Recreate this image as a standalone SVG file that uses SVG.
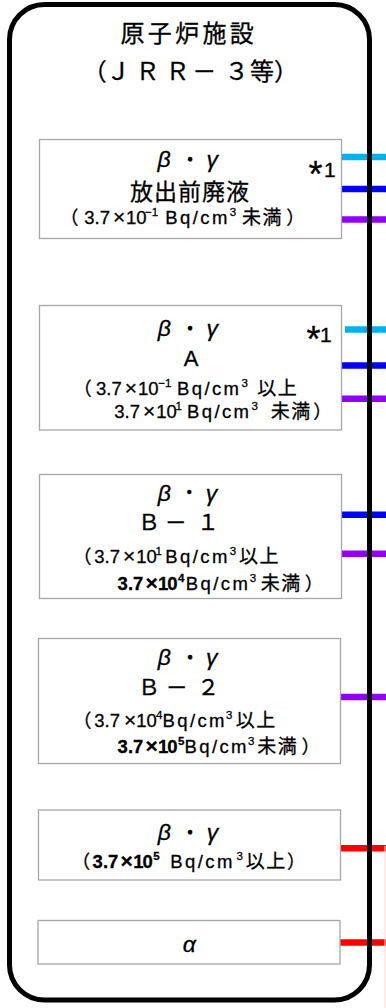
<svg xmlns="http://www.w3.org/2000/svg" width="386" height="1008" viewBox="0 0 386 1008">
<style>
.t{font-family:"Liberation Sans","Noto Sans CJK JP",sans-serif;fill:#000;stroke:#000;stroke-width:0.3px}
.j{font-family:"Noto Sans CJK JP","Liberation Sans",sans-serif;fill:#000;stroke:#000;stroke-width:0.3px}
.n{font-size:18.5px}
.s{font-size:11.5px}
.k{font-size:19px;letter-spacing:1.5px}
.x{font-size:21px}
.g{font-size:23px;font-style:italic}
.b{font-weight:bold}
.bn{letter-spacing:-1px}
.q{letter-spacing:2.4px}
.m{text-anchor:middle}
.box{fill:#fff;stroke:#a6a6a6;stroke-width:1.3}
.c{stroke-width:6.5;fill:none}
</style>
<rect width="386" height="1008" fill="#fff"/>

<g id="connectors">
<line class="c" x1="341.5" y1="157" x2="386" y2="157" stroke="#00b0f0"/>
<line class="c" x1="341.5" y1="189" x2="386" y2="189" stroke="#0000ff"/>
<line class="c" x1="341.5" y1="219.5" x2="386" y2="219.5" stroke="#9000ff"/>
<line class="c" x1="345" y1="329.5" x2="386" y2="329.5" stroke="#00b0f0"/>
<line class="c" x1="342" y1="365.5" x2="386" y2="365.5" stroke="#0000ff"/>
<line class="c" x1="342" y1="398.7" x2="386" y2="398.7" stroke="#9000ff"/>
<line class="c" x1="342" y1="514.7" x2="386" y2="514.7" stroke="#0000ff"/>
<line class="c" x1="342" y1="553.8" x2="386" y2="553.8" stroke="#9000ff"/>
<line class="c" x1="340" y1="697" x2="386" y2="697" stroke="#9000ff"/>
<line class="c" x1="339" y1="848.3" x2="386" y2="848.3" stroke="#ff0000"/>
<line class="c" x1="339" y1="942.5" x2="386" y2="942.5" stroke="#ff0000"/>
<line x1="385" y1="846" x2="385" y2="1008" stroke="#ffd6d6" stroke-width="1"/>
</g>

<g id="facility">
<rect x="9.5" y="4.5" width="360" height="995.5" rx="35" ry="35" fill="none" stroke="#000" stroke-width="5"/>
<text class="j" x="120.5" y="41.6" style="font-size:24px;letter-spacing:3.3px">原子炉施設</text>
<text class="j m" x="94.7 118.3 147.5 177.5 204.2 236.7 262 286" y="80" style="font-size:24px">（ＪＲＲ－３等）</text>
</g>

<g id="n1">
<rect class="box" x="39.5" y="139.5" width="302" height="99"/>
<text class="t g m" x="164" y="167">β</text>
<text class="j m" x="190" y="167" style="font-size:20px">・</text>
<text class="t g m" x="212.3" y="167">γ</text>
<text class="t" x="308.5" y="187" style="font-size:36px">*<tspan x="324" y="176.7" style="font-size:21px">1</tspan></text>
<text class="j" x="130" y="200" style="font-size:23px;letter-spacing:1px">放出前廃液</text>
<text class="t n" y="224"><tspan class="j" x="60">（</tspan><tspan x="84.3">3.7</tspan><tspan class="x" x="112.9">×</tspan><tspan x="126">10</tspan><tspan class="s" x="145" y="216">−1</tspan><tspan class="q" x="165.3" y="224">Bq/cm</tspan><tspan class="s" x="229.7" y="216">3</tspan><tspan class="j k" x="242" y="224">未満</tspan><tspan class="j" x="286.3">）</tspan></text>
</g>

<g id="n2">
<rect class="box" x="39.5" y="305.5" width="302" height="124.5"/>
<text class="t g m" x="164.2" y="336.3">β</text>
<text class="j m" x="190" y="336.3" style="font-size:20px">・</text>
<text class="t g m" x="212.3" y="336.3">γ</text>
<text class="t" x="306.5" y="352" style="font-size:36px">*<tspan x="320" y="341.7" style="font-size:21px">1</tspan></text>
<text class="t m" x="191" y="365.7" style="font-size:22px">A</text>
<text class="t n" y="395"><tspan class="j" x="73.35">（</tspan><tspan x="96">3.7</tspan><tspan class="x" x="124.7">×</tspan><tspan x="138">10</tspan><tspan class="s" x="158.3" y="387">−1</tspan><tspan class="q" x="177" y="395">Bq/cm</tspan><tspan class="s" x="241.5" y="387">3</tspan><tspan class="j k" x="257.3" y="395">以上</tspan></text>
<text class="t n" y="418"><tspan x="114.3">3.7</tspan><tspan class="x" x="143.1">×</tspan><tspan x="156.3">10</tspan><tspan class="s" x="175.5" y="410">1</tspan><tspan class="q" x="187" y="418">Bq/cm</tspan><tspan class="s" x="251.5" y="410">3</tspan><tspan class="j k" x="270.7" y="418">未満</tspan><tspan class="j" x="313.15">）</tspan></text>
</g>

<g id="n3">
<rect class="box" x="39.5" y="474.5" width="302" height="124"/>
<text class="t g m" x="164.2" y="501">β</text>
<text class="j m" x="189.3" y="500" style="font-size:19px">・</text>
<text class="t g m" x="211.5" y="501">γ</text>
<text class="j m" x="149 175.7 208" y="530" style="font-size:22px">Ｂ－１</text>
<text class="t n" y="563"><tspan class="j" x="72.95">（</tspan><tspan x="94.3">3.7</tspan><tspan class="x" x="123.1">×</tspan><tspan x="136.3">10</tspan><tspan class="s" x="155.5" y="555">1</tspan><tspan class="q" x="165.3" y="563">Bq/cm</tspan><tspan class="s" x="229.7" y="555">3</tspan><tspan class="j k" x="239" y="563">以上</tspan></text>
<text class="t n" y="590"><tspan class="b" x="117.6">3.7</tspan><tspan class="x b" x="145.6">×</tspan><tspan class="b bn" x="158">10</tspan><tspan class="s b" x="178" y="582">4</tspan><tspan class="q" x="185.8" y="590">Bq/cm</tspan><tspan class="s" x="249.7" y="582">3</tspan><tspan class="j k" x="260.7" y="590">未満</tspan><tspan class="j" x="304.75">）</tspan></text>
</g>

<g id="n4">
<rect class="box" x="38.5" y="638.5" width="302" height="125"/>
<text class="t g m" x="164.2" y="664.5">β</text>
<text class="j m" x="190" y="664.5" style="font-size:20px">・</text>
<text class="t g m" x="211.7" y="664.5">γ</text>
<text class="j m" x="149 176.7 208.3" y="695" style="font-size:22px">Ｂ－２</text>
<text class="t n" y="726.7"><tspan class="j" x="72.95">（</tspan><tspan x="94.3">3.7</tspan><tspan class="x" x="123.9">×</tspan><tspan x="136.3">10</tspan><tspan class="s" x="156" y="718.7">4</tspan><tspan class="q" x="162.5" y="726.7">Bq/cm</tspan><tspan class="s" x="226" y="718.7">3</tspan><tspan class="j k" x="235.7" y="726.7">以上</tspan></text>
<text class="t n" y="753"><tspan class="b" x="117.6">3.7</tspan><tspan class="x b" x="145.6">×</tspan><tspan class="b bn" x="158">10</tspan><tspan class="s b" x="178" y="745">5</tspan><tspan class="q" x="184.5" y="753">Bq/cm</tspan><tspan class="s" x="248" y="745">3</tspan><tspan class="j k" x="257.3" y="753">未満</tspan><tspan class="j" x="301.55">）</tspan></text>
</g>

<g id="n5">
<rect class="box" x="38.5" y="810" width="302" height="70"/>
<text class="t g m" x="164.2" y="839.5">β</text>
<text class="j m" x="190" y="839.5" style="font-size:20px">・</text>
<text class="t g m" x="212.5" y="839.5">γ</text>
<text class="t n" y="868"><tspan class="j" x="71.65">（</tspan><tspan class="b" x="92.6">3.7</tspan><tspan class="x b" x="120.6">×</tspan><tspan class="b bn" x="133.3">10</tspan><tspan class="s b" x="153.3" y="860">5</tspan><tspan class="q" x="170.3" y="868">Bq/cm</tspan><tspan class="s" x="236.5" y="860">3</tspan><tspan class="j k" x="245.7" y="868">以上</tspan><tspan class="j" x="287.05">）</tspan></text>
</g>

<g id="n6">
<rect class="box" x="38" y="920.5" width="302" height="43.5"/>
<text class="t m" x="189.2" y="951.7" style="font-size:23px;font-style:italic">α</text>
</g>
</svg>
